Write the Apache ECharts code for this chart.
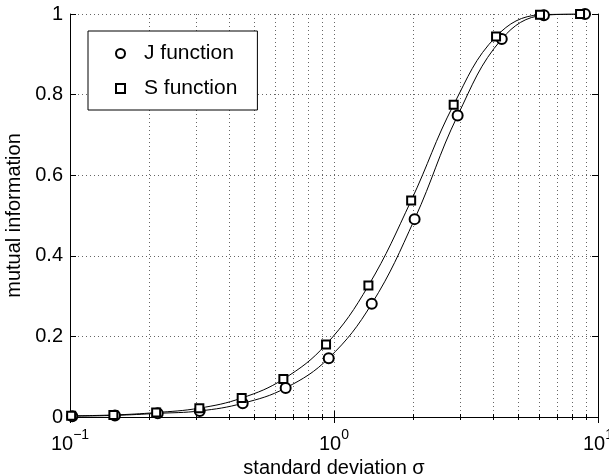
<!DOCTYPE html>
<html>
  <head>
    <meta charset="utf-8" />
    <title>mutual information</title>
    <script src="https://cdn.jsdelivr.net/npm/echarts@6/dist/echarts.min.js"></script>
  </head>
  <body style="margin: 0">
    <div id="chart" style="width: 609px; height: 475px"></div>
    <script type="text/javascript">
      // values
      var sigmaJ = [0.102, 0.148, 0.215, 0.31, 0.451, 0.656, 0.955, 1.39, 2.02, 2.94, 4.32, 6.24, 8.93];
      var infoJ = [0.002, 0.004, 0.009, 0.015, 0.034, 0.072, 0.146, 0.281, 0.491, 0.748, 0.938, 0.997, 1.0];
      var sigmaS = [0.101, 0.146, 0.212, 0.309, 0.447, 0.643, 0.933, 1.35, 1.96, 2.84, 4.11, 6.03, 8.55];
      var infoS = [0.003, 0.005, 0.011, 0.022, 0.047, 0.094, 0.18, 0.326, 0.537, 0.775, 0.944, 0.998, 1.0];
      var xRange = [0.1, 10];
      var yRange = [0, 1];
      var yStep = 0.2;

      var font = "Liberation Sans";

      function pairs(xs, ys) {
        var out = [];
        for (var i = 0; i < xs.length; i++) out.push([xs[i], ys[i]]);
        return out;
      }

      var chart = echarts.init(document.getElementById("chart"));
      var option = {
        animation: false,
        backgroundColor: "#fff",
        textStyle: { fontFamily: font },
        grid: { left: 70, right: 11, top: 14, bottom: 58, outerBoundsMode: "none" },
        legend: {
          left: 88,
          top: 31,
          orient: "vertical",
          padding: [12, 20, 11, 27],
          itemGap: 14,
          itemWidth: 9,
          itemHeight: 9,
          borderColor: "#000",
          borderWidth: 1,
          backgroundColor: "#fff",
          textStyle: { fontSize: 21, color: "#000", fontFamily: font, padding: [0, 0, 0, 14] },
          data: [
            { name: "J function", icon: "emptyCircle" },
            { name: "S function", icon: "emptyRect" },
          ],
        },
        xAxis: [
          {
            type: "log",
            logBase: 10,
            min: xRange[0],
            max: xRange[1],
            name: "standard deviation σ",
            nameLocation: "middle",
            nameGap: 41,
            nameTextStyle: { fontSize: 20, color: "#000", fontFamily: font },
            axisLine: { lineStyle: { color: "#000", width: 1 } },
            axisTick: { inside: true, length: 6, lineStyle: { color: "#000" } },
            minorTick: { show: true, splitNumber: 9, length: 3, lineStyle: { color: "#000" } },
            splitLine: { show: true, lineStyle: { color: "#666", type: [1, 3] } },
            minorSplitLine: { show: true, lineStyle: { color: "#666", type: [1, 3] } },
            axisLabel: {
              margin: 11,
              formatter: function (v) {
                var e = Math.round(Math.log10(v));
                return "{b|10}{s|" + String(e).replace("-", "\u2212") + "}";
              },
              rich: {
                b: { fontSize: 20, color: "#000", fontFamily: font, lineHeight: 26, verticalAlign: "bottom" },
                s: { fontSize: 14, color: "#000", fontFamily: font, lineHeight: 14, verticalAlign: "top" },
              },
            },
          },
          {
            type: "log",
            logBase: 10,
            position: "top",
            min: xRange[0],
            max: xRange[1],
            axisLine: { lineStyle: { color: "#000", width: 1 } },
            axisTick: { inside: true, length: 6, lineStyle: { color: "#000" } },
            minorTick: { show: true, splitNumber: 9, length: 3, lineStyle: { color: "#000" } },
            splitLine: { show: false },
            axisLabel: { show: false },
          },
        ],
        yAxis: [
          {
            type: "value",
            min: yRange[0],
            max: yRange[1],
            interval: yStep,
            name: "mutual information",
            nameLocation: "middle",
            nameGap: 45,
            nameTextStyle: { fontSize: 20, color: "#000", fontFamily: font },
            axisLine: { show: true, lineStyle: { color: "#000", width: 1 } },
            axisTick: { show: true, inside: true, length: 6, lineStyle: { color: "#000" } },
            splitLine: { show: true, lineStyle: { color: "#666", type: [1, 3] } },
            axisLabel: { fontSize: 20, color: "#000", margin: 7, fontFamily: font },
          },
          {
            type: "value",
            position: "right",
            min: yRange[0],
            max: yRange[1],
            interval: yStep,
            axisLine: { show: true, lineStyle: { color: "#000", width: 1 } },
            axisTick: { show: true, inside: true, length: 6, lineStyle: { color: "#000" } },
            splitLine: { show: false },
            axisLabel: { show: false },
          },
        ],
        series: [
          {
            name: "J function",
            type: "line",
            data: pairs(sigmaJ, infoJ),
            smooth: 0.4,
            symbol: "emptyCircle",
            symbolSize: 10,
            showAllSymbol: true,
            lineStyle: { color: "#000", width: 1 },
            itemStyle: { color: "#000", borderWidth: 1 },
            z: 3,
          },
          {
            name: "S function",
            type: "line",
            data: pairs(sigmaS, infoS),
            smooth: 0.4,
            symbol: "emptyRect",
            symbolSize: 8,
            showAllSymbol: true,
            lineStyle: { color: "#000", width: 1 },
            itemStyle: { color: "#000", borderWidth: 1 },
            z: 3,
          },
        ],
      };
      chart.setOption(option);
    </script>
  </body>
</html>
